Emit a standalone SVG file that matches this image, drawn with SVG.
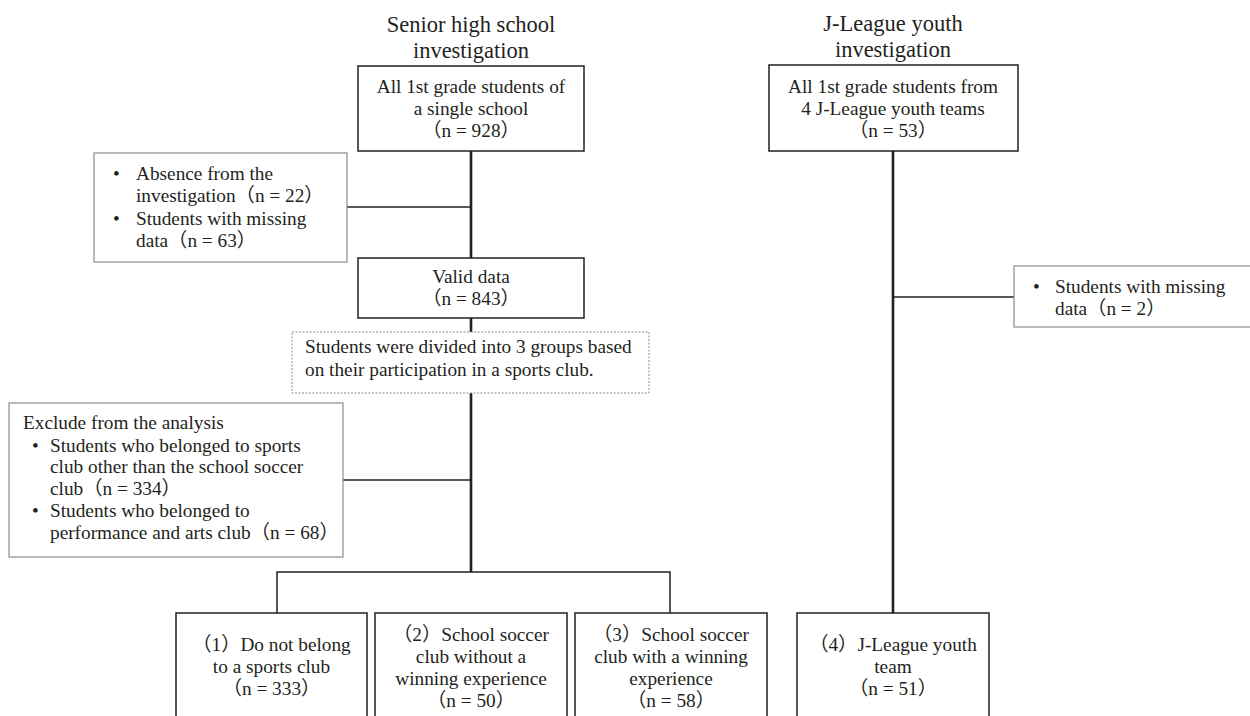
<svg xmlns="http://www.w3.org/2000/svg" width="1250" height="716" viewBox="0 0 1250 716">
<style>
text{font-family:"Liberation Serif","Noto Sans CJK JP",serif;fill:#231f20;font-size:19.3px}
.t{font-size:22.5px}
.c{text-anchor:middle}
.box{fill:#fff;stroke:#231f20;stroke-width:1.5}
.ex{fill:#fff;stroke:#8c8c8c;stroke-width:1.2}
.dot{fill:#fff;stroke:#8c8c8c;stroke-width:1;stroke-dasharray:2 1.5}
.thick{stroke:#231f20;stroke-width:2.6;fill:none}
.thin{stroke:#231f20;stroke-width:1.5;fill:none}
</style>
<rect width="1250" height="716" fill="#fff"/>
<g id="titles">
<text class="t c" x="471" y="32">Senior high school</text>
<text class="t c" x="471" y="58">investigation</text>
<text class="t c" x="893" y="31">J-League youth</text>
<text class="t c" x="893" y="57">investigation</text>
</g>
<g id="connectors">
<line class="thick" x1="471" y1="151" x2="471" y2="258"/>
<line class="thick" x1="471" y1="318" x2="471" y2="332"/>
<line class="thick" x1="471" y1="393" x2="471" y2="572"/>
<line class="thin" x1="347" y1="207" x2="471" y2="207"/>
<line class="thin" x1="343" y1="480" x2="471" y2="480"/>
<polyline class="thin" points="277,613 277,572 670,572 670,613"/>
<line class="thick" x1="893" y1="151" x2="893" y2="613"/>
<line class="thin" x1="893" y1="297" x2="1014" y2="297"/>
</g>
<g id="senior-all">
<rect class="box" x="358" y="66" width="226" height="85"/>
<text class="c" x="471" y="93">All 1st grade students of</text>
<text class="c" x="471" y="115">a single school</text>
<text class="c" x="471" y="137">（n = 928）</text>
</g>
<g id="exclusion-1">
<rect class="ex" x="94" y="153" width="253" height="109"/>
<text x="113" y="180">•</text><text x="136" y="180">Absence from the</text>
<text x="136" y="202">investigation（n = 22）</text>
<text x="113" y="225">•</text><text x="136" y="225">Students with missing</text>
<text x="136" y="247">data（n = 63）</text>
</g>
<g id="valid-data">
<rect class="box" x="358" y="258" width="226" height="60"/>
<text class="c" x="471" y="283">Valid data</text>
<text class="c" x="471" y="305">（n = 843）</text>
</g>
<g id="grouping-note">
<rect class="dot" x="292" y="332" width="357" height="61"/>
<text x="305" y="353">Students were divided into 3 groups based</text>
<text x="305" y="376">on their participation in a sports club.</text>
</g>
<g id="exclusion-2">
<rect class="ex" x="9" y="403" width="334" height="154"/>
<text x="23" y="429">Exclude from the analysis</text>
<text x="32" y="452">•</text><text x="50" y="452">Students who belonged to sports</text>
<text x="50" y="473">club other than the school soccer</text>
<text x="50" y="495">club（n = 334）</text>
<text x="32" y="517">•</text><text x="50" y="517">Students who belonged to</text>
<text x="50" y="539">performance and arts club（n = 68）</text>
</g>
<g id="group-1">
<rect class="box" x="176" y="613" width="191" height="110"/>
<text class="c" x="271.5" y="651">（1）Do not belong</text>
<text class="c" x="271.5" y="673">to a sports club</text>
<text class="c" x="271.5" y="695">（n = 333）</text>
</g>
<g id="group-2">
<rect class="box" x="375" y="613" width="192" height="110"/>
<text class="c" x="471" y="641">（2）School soccer</text>
<text class="c" x="471" y="663">club without a</text>
<text class="c" x="471" y="685">winning experience</text>
<text class="c" x="471" y="707">（n = 50）</text>
</g>
<g id="group-3">
<rect class="box" x="575" y="613" width="192" height="110"/>
<text class="c" x="671" y="641">（3）School soccer</text>
<text class="c" x="671" y="663">club with a winning</text>
<text class="c" x="671" y="685">experience</text>
<text class="c" x="671" y="707">（n = 58）</text>
</g>
<g id="jleague-all">
<rect class="box" x="769" y="65" width="249" height="86"/>
<text class="c" x="893" y="93">All 1st grade students from</text>
<text class="c" x="893" y="115">4 J-League youth teams</text>
<text class="c" x="893" y="137">（n = 53）</text>
</g>
<g id="exclusion-3">
<rect class="ex" x="1014" y="266" width="240" height="61"/>
<text x="1033" y="293">•</text><text x="1055" y="293">Students with missing</text>
<text x="1055" y="315">data（n = 2）</text>
</g>
<g id="group-4">
<rect class="box" x="797" y="613" width="192" height="110"/>
<text class="c" x="893" y="651">（4）J-League youth</text>
<text class="c" x="893" y="673">team</text>
<text class="c" x="893" y="695">（n = 51）</text>
</g>
</svg>
